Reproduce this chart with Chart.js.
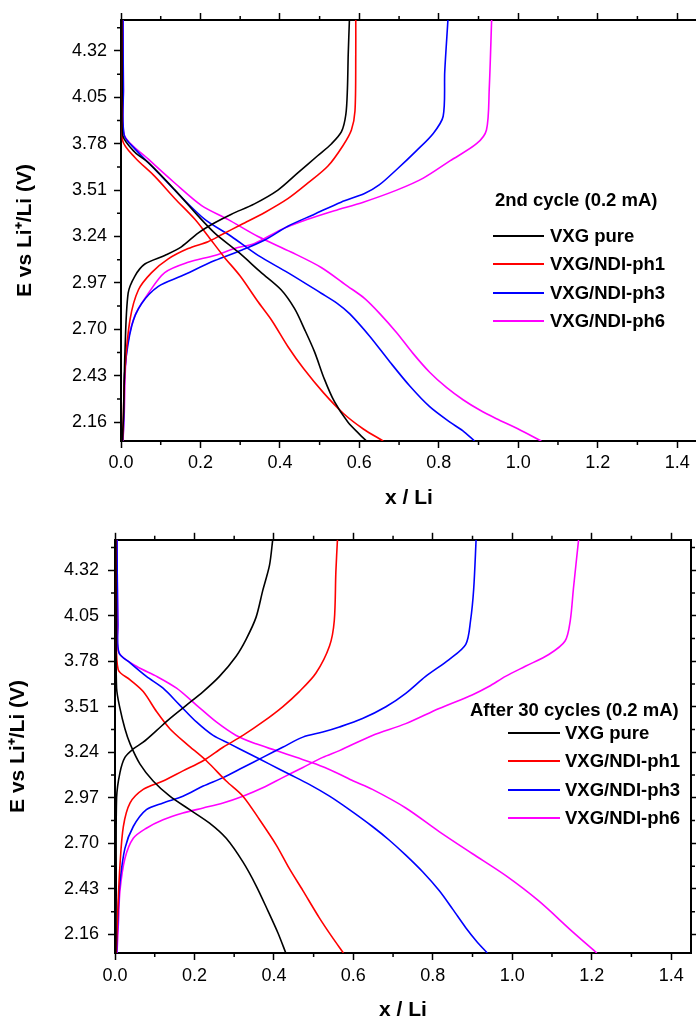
<!DOCTYPE html>
<html>
<head>
<meta charset="utf-8">
<script src="https://cdn.jsdelivr.net/npm/chart.js@4.4.1/dist/chart.umd.min.js"></script>
<style>
  html, body { margin: 0; padding: 0; background: #fff; overflow: hidden; width: 696px; height: 1023px; }
  canvas { position: absolute; left: 0; }
  #top-chart { top: 0; }
  #bottom-chart { top: 520px; }
  .lg { position: absolute; font: bold 18.5px "Liberation Sans", Arial, sans-serif; color: #000; line-height: 22px; white-space: nowrap; }
  .lg-line { position: absolute; height: 2px; }
</style>
</head>
<body>
<canvas id="top-chart" width="720" height="520"></canvas>
<canvas id="bottom-chart" width="696" height="503"></canvas>
<div id="legends"></div>
<script>
// axis ticks
const xTickValues = [0, 0.2, 0.4, 0.6, 0.8, 1.0, 1.2, 1.4];
const xMinorTicks = [0.1, 0.3, 0.5, 0.7, 0.9, 1.1, 1.3];
const yTickValues = [2.16, 2.43, 2.70, 2.97, 3.24, 3.51, 3.78, 4.05, 4.32];
const yMinorTicks = [2.295, 2.565, 2.835, 3.105, 3.375, 3.645, 3.915, 4.185, 4.455];

const seriesNames = ['VXG pure', 'VXG/NDI-ph1', 'VXG/NDI-ph3', 'VXG/NDI-ph6'];
const seriesColors = ['#000000', '#ff0000', '#0000ff', '#ff00ff'];

// 2nd cycle, [x, E] pairs
const c2PureDis = [[0.002,4.50],[0.003,4.10],[0.004,3.83],[0.035,3.73],[0.069,3.67],[0.136,3.51],[0.194,3.36],[0.236,3.26],[0.295,3.15],[0.353,3.03],[0.403,2.93],[0.437,2.82],[0.462,2.70],[0.487,2.57],[0.512,2.41],[0.537,2.28],[0.571,2.16],[0.600,2.09],[0.618,2.05]];
const c2Ph1Dis = [[0.002,4.50],[0.003,4.10],[0.004,3.80],[0.035,3.70],[0.085,3.59],[0.136,3.46],[0.186,3.34],[0.220,3.24],[0.260,3.12],[0.300,3.01],[0.345,2.86],[0.380,2.75],[0.420,2.60],[0.460,2.47],[0.510,2.33],[0.560,2.21],[0.610,2.12],[0.660,2.05]];
const c2Ph3Dis = [[0.005,4.50],[0.006,4.10],[0.008,3.83],[0.035,3.75],[0.094,3.61],[0.152,3.47],[0.211,3.34],[0.278,3.24],[0.345,3.13],[0.420,3.03],[0.504,2.91],[0.545,2.85],[0.576,2.79],[0.626,2.66],[0.677,2.51],[0.727,2.37],[0.777,2.25],[0.828,2.16],[0.860,2.11],[0.890,2.05]];
const c2Ph6Dis = [[0.005,4.50],[0.006,4.10],[0.008,3.83],[0.069,3.69],[0.136,3.55],[0.203,3.42],[0.269,3.34],[0.345,3.24],[0.428,3.15],[0.504,3.06],[0.571,2.95],[0.613,2.88],[0.652,2.79],[0.694,2.68],[0.735,2.56],[0.777,2.45],[0.820,2.36],[0.861,2.29],[0.903,2.23],[0.945,2.18],[1.000,2.12],[1.058,2.05]];
const c2PureCha = [[0.003,2.05],[0.006,2.18],[0.010,2.57],[0.018,2.91],[0.035,3.01],[0.060,3.08],[0.110,3.13],[0.152,3.18],[0.194,3.26],[0.236,3.32],[0.278,3.37],[0.336,3.43],[0.395,3.51],[0.445,3.61],[0.495,3.71],[0.530,3.78],[0.555,3.85],[0.566,3.95],[0.570,4.10],[0.572,4.30],[0.575,4.50]];
const c2Ph1Cha = [[0.004,2.05],[0.006,2.20],[0.010,2.47],[0.023,2.76],[0.044,2.93],[0.077,3.03],[0.119,3.11],[0.169,3.17],[0.219,3.21],[0.253,3.25],[0.303,3.31],[0.362,3.38],[0.420,3.46],[0.470,3.55],[0.521,3.65],[0.559,3.77],[0.580,3.86],[0.589,3.97],[0.591,4.30],[0.591,4.50]];
const c2Ph3Cha = [[0.005,2.05],[0.007,2.20],[0.010,2.47],[0.027,2.72],[0.052,2.85],[0.094,2.95],[0.152,3.01],[0.236,3.10],[0.303,3.16],[0.362,3.22],[0.420,3.30],[0.487,3.37],[0.554,3.44],[0.613,3.49],[0.650,3.54],[0.694,3.63],[0.744,3.74],[0.786,3.84],[0.811,3.94],[0.815,4.20],[0.823,4.50]];
const c2Ph6Cha = [[0.005,2.05],[0.008,2.20],[0.014,2.57],[0.035,2.78],[0.069,2.91],[0.110,3.03],[0.169,3.09],[0.236,3.13],[0.286,3.17],[0.336,3.20],[0.403,3.28],[0.470,3.34],[0.537,3.39],[0.610,3.44],[0.694,3.51],[0.761,3.58],[0.828,3.68],[0.895,3.78],[0.920,3.86],[0.927,4.10],[0.933,4.50]];

// after 30 cycles, [x, E] pairs
const c30PureDis = [[0.002,4.50],[0.003,4.00],[0.004,3.62],[0.0125,3.50],[0.025,3.38],[0.038,3.29],[0.063,3.17],[0.096,3.07],[0.138,2.98],[0.188,2.90],[0.238,2.82],[0.280,2.73],[0.322,2.59],[0.355,2.45],[0.385,2.30],[0.410,2.17],[0.430,2.05]];
const c30Ph1Dis = [[0.002,4.50],[0.004,4.00],[0.008,3.73],[0.038,3.67],[0.071,3.60],[0.105,3.48],[0.138,3.38],[0.180,3.29],[0.230,3.19],[0.280,3.07],[0.322,2.98],[0.364,2.84],[0.406,2.69],[0.439,2.55],[0.473,2.42],[0.514,2.26],[0.545,2.15],[0.575,2.05]];
const c30Ph3Dis = [[0.005,4.50],[0.007,4.00],[0.010,3.83],[0.038,3.77],[0.079,3.69],[0.121,3.62],[0.163,3.52],[0.205,3.42],[0.247,3.34],[0.289,3.29],[0.339,3.23],[0.389,3.17],[0.439,3.11],[0.489,3.05],[0.540,2.98],[0.590,2.90],[0.648,2.80],[0.690,2.72],[0.732,2.63],[0.775,2.53],[0.816,2.42],[0.850,2.31],[0.883,2.20],[0.910,2.12],[0.937,2.05]];
const c30Ph6Dis = [[0.005,4.50],[0.007,4.00],[0.010,3.83],[0.054,3.75],[0.105,3.69],[0.155,3.62],[0.205,3.52],[0.255,3.42],[0.305,3.34],[0.355,3.29],[0.406,3.25],[0.456,3.21],[0.506,3.17],[0.556,3.12],[0.600,3.07],[0.648,3.02],[0.732,2.91],[0.816,2.77],[0.899,2.64],[0.983,2.51],[1.066,2.36],[1.150,2.18],[1.213,2.05]];
const c30PureCha = [[0.002,2.05],[0.003,2.40],[0.004,2.97],[0.0125,3.12],[0.025,3.21],[0.046,3.26],[0.071,3.30],[0.105,3.37],[0.138,3.44],[0.180,3.52],[0.222,3.60],[0.263,3.69],[0.305,3.81],[0.330,3.91],[0.355,4.04],[0.372,4.20],[0.389,4.35],[0.397,4.50]];
const c30Ph1Cha = [[0.003,2.05],[0.007,2.30],[0.0125,2.57],[0.021,2.80],[0.038,2.94],[0.071,3.02],[0.121,3.07],[0.171,3.13],[0.222,3.19],[0.272,3.27],[0.322,3.34],[0.372,3.42],[0.422,3.51],[0.464,3.60],[0.506,3.71],[0.540,3.87],[0.552,4.02],[0.556,4.31],[0.560,4.50]];
const c30Ph3Cha = [[0.004,2.05],[0.008,2.30],[0.0125,2.47],[0.025,2.67],[0.046,2.80],[0.079,2.90],[0.121,2.94],[0.171,2.98],[0.222,3.04],[0.272,3.09],[0.322,3.15],[0.372,3.21],[0.422,3.27],[0.473,3.33],[0.523,3.36],[0.565,3.39],[0.623,3.44],[0.682,3.51],[0.732,3.59],[0.782,3.69],[0.841,3.79],[0.883,3.88],[0.895,4.02],[0.903,4.21],[0.909,4.50]];
const c30Ph6Cha = [[0.005,2.05],[0.009,2.25],[0.0125,2.42],[0.025,2.61],[0.046,2.73],[0.079,2.79],[0.121,2.84],[0.171,2.88],[0.222,2.91],[0.272,2.94],[0.322,2.98],[0.372,3.03],[0.422,3.09],[0.473,3.15],[0.523,3.21],[0.565,3.25],[0.648,3.34],[0.732,3.41],[0.816,3.50],[0.899,3.58],[0.941,3.63],[0.983,3.69],[1.033,3.75],[1.092,3.82],[1.133,3.90],[1.146,4.02],[1.154,4.21],[1.167,4.50]];

const FONT = '"Liberation Sans", Arial, sans-serif';

// discharge + gap + charge in one dataset so each sample is one legend entry
function toPoints(dis, cha) {
  const pts = dis.map(p => ({ x: p[0], y: p[1] }));
  pts.push({ x: dis[dis.length - 1][0], y: null });
  return pts.concat(cha.map(p => ({ x: p[0], y: p[1] })));
}

// minor ticks (Chart.js has none built in)
const minorTicks = {
  id: 'minorTicks',
  afterDraw(chart) {
    const { ctx, chartArea: a, scales } = chart;
    ctx.save();
    ctx.strokeStyle = '#000';
    ctx.lineWidth = 1.5;
    ctx.beginPath();
    ['x', 'x2'].forEach(id => {
      const s = scales[id];
      const edge = s.position === 'top' ? a.top : a.bottom;
      const dir = s.position === 'top' ? -1 : 1;
      xMinorTicks.forEach(v => {
        const p = s.getPixelForValue(v);
        if (p < a.left || p > a.right) return;
        ctx.moveTo(p, edge); ctx.lineTo(p, edge + dir * 4);
      });
    });
    ['y', 'y2'].forEach(id => {
      const s = scales[id];
      const edge = s.position === 'left' ? a.left : a.right;
      const dir = s.position === 'left' ? -1 : 1;
      yMinorTicks.forEach(v => {
        const p = s.getPixelForValue(v);
        if (p < a.top || p > a.bottom) return;
        ctx.moveTo(edge, p); ctx.lineTo(edge + dir * 4, p);
      });
    });
    ctx.stroke();
    ctx.restore();
  }
};

function makePanel(canvasId, series, box) {
  const tickFont = { family: FONT, size: 18 };
  const titleFont = { family: FONT, size: 21, weight: 'bold' };
  const grid = { drawOnChartArea: false, tickLength: 7, tickWidth: 1.5, tickColor: '#000' };
  const border = { display: true, width: 2, color: '#000' };
  const setX = s => { s.ticks = xTickValues.map(v => ({ value: v })); };
  const setY = s => { s.ticks = yTickValues.map(v => ({ value: v })); };

  const ctx = document.getElementById(canvasId).getContext('2d');
  return new Chart(ctx, {
    type: 'line',
    data: {
      datasets: series.map((s, i) => ({
        label: seriesNames[i],
        data: toPoints(s[0], s[1]),
        borderColor: seriesColors[i],
        backgroundColor: seriesColors[i],
        borderWidth: 1.6,
        pointRadius: 0,
        tension: 0.3,
        spanGaps: false
      }))
    },
    options: {
      responsive: false,
      animation: false,
      layout: { padding: 0 },
      plugins: { legend: { display: false }, tooltip: { enabled: false } },
      scales: {
        x: {
          type: 'linear', position: 'bottom', min: 0, max: 1.45,
          afterBuildTicks: setX,
          afterFit: s => { s.height = box.bottom; },
          ticks: { font: tickFont, color: '#000', padding: box.xTickPad, autoSkip: false, maxRotation: 0, callback: v => v.toFixed(1) },
          grid, border,
          title: { display: true, text: 'x / Li', font: titleFont, color: '#000', padding: { top: 0, bottom: box.xTitlePad } }
        },
        x2: {
          type: 'linear', position: 'top', min: 0, max: 1.45,
          afterBuildTicks: setX,
          afterFit: s => { s.height = box.top; },
          ticks: { display: false },
          grid, border
        },
        y: {
          type: 'linear', position: 'left', min: 2.05, max: 4.5,
          afterBuildTicks: setY,
          afterFit: s => { s.width = box.left; },
          ticks: { font: tickFont, color: '#000', padding: box.yTickPad, autoSkip: false, callback: v => v.toFixed(2) },
          grid, border,
          title: { display: true, text: 'E vs Li\u207A/Li (V)', font: titleFont, color: '#000', padding: { top: box.yTitlePad, bottom: 0 } }
        },
        y2: {
          type: 'linear', position: 'right', min: 2.05, max: 4.5,
          afterBuildTicks: setY,
          afterFit: s => { s.width = box.right; },
          ticks: { display: false },
          grid, border
        }
      }
    },
    plugins: [minorTicks]
  });
}

function addLegend(title, pos) {
  const root = document.getElementById('legends');
  const t = document.createElement('div');
  t.className = 'lg';
  t.textContent = title;
  t.style.left = pos.titleX + 'px';
  t.style.top = (pos.titleY - 11) + 'px';
  root.appendChild(t);
  seriesNames.forEach((name, i) => {
    const cy = pos.rowY + i * pos.rowStep;
    const line = document.createElement('div');
    line.className = 'lg-line';
    line.style.left = pos.lineX + 'px';
    line.style.width = pos.lineW + 'px';
    line.style.top = (cy - 1) + 'px';
    line.style.background = seriesColors[i];
    root.appendChild(line);
    const label = document.createElement('div');
    label.className = 'lg';
    label.textContent = name;
    label.style.left = pos.textX + 'px';
    label.style.top = (cy - 11) + 'px';
    root.appendChild(label);
  });
}

makePanel('top-chart',
  [[c2PureDis, c2PureCha], [c2Ph1Dis, c2Ph1Cha], [c2Ph3Dis, c2Ph3Cha], [c2Ph6Dis, c2Ph6Cha]],
  { left: 121, top: 20, right: 23, bottom: 79, xTickPad: 4, yTickPad: 7, xTitlePad: 9, yTitlePad: 13 });

makePanel('bottom-chart',
  [[c30PureDis, c30PureCha], [c30Ph1Dis, c30Ph1Cha], [c30Ph3Dis, c30Ph3Cha], [c30Ph6Dis, c30Ph6Cha]],
  { left: 115, top: 12, right: 5, bottom: 70, xTickPad: 5, yTickPad: 9, xTitlePad: 0, yTitlePad: 6 });

addLegend('2nd cycle (0.2 mA)', { titleX: 495, titleY: 200, lineX: 493, lineW: 51, textX: 550, rowY: 236, rowStep: 28.4 });
addLegend('After 30 cycles (0.2 mA)', { titleX: 470, titleY: 710, lineX: 508, lineW: 52, textX: 565, rowY: 733, rowStep: 28.4 });
</script>
</body>
</html>
